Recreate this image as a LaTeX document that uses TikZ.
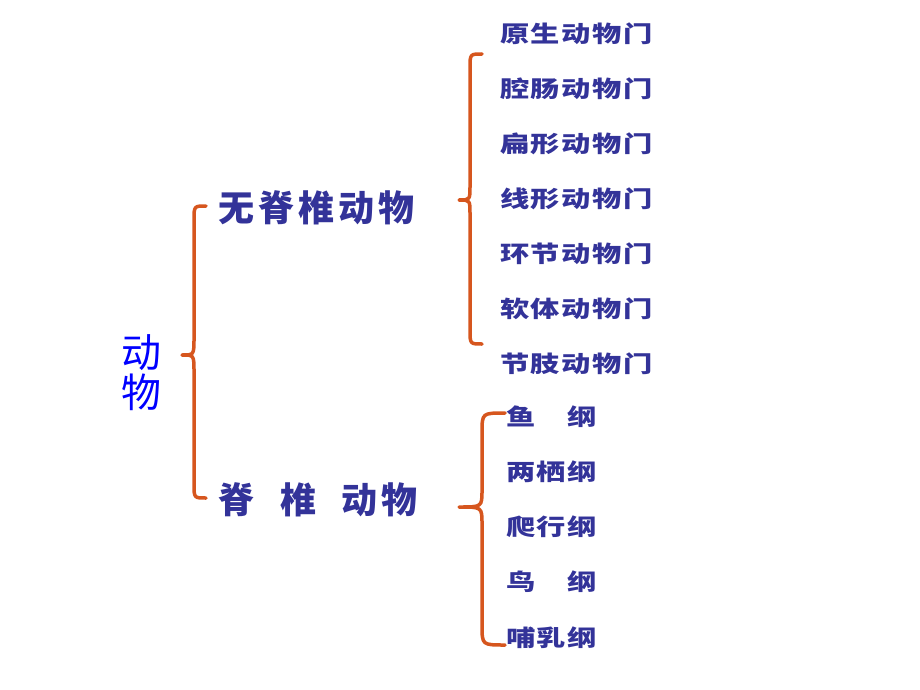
\documentclass[tikz,border=0pt]{standalone}
\usepackage{graphicx}
\usepackage{fontspec}
\newfontfamily\cjk{Noto Sans CJK SC}
\definecolor{txtblue}{RGB}{51,51,153}
\definecolor{rootblue}{RGB}{0,0,255}
\definecolor{braceorange}{RGB}{214,86,30}
\newcommand\kk{\kern1.2pt}
\newcommand\km{\kern4pt}
\newcommand\wide[1]{\scalebox{1.22}[0.95]{#1}}
\tikzset{
  item/.style={anchor=west, inner sep=0pt, text=txtblue, font=\cjk\bfseries\fontsize{24}{24}\selectfont},
  mid/.style={anchor=west, inner sep=0pt, text=txtblue, font=\cjk\bfseries\fontsize{36}{36}\selectfont},
  rootstyle/.style={inner sep=0pt, text=rootblue, align=center, font=\cjk\fontsize{40}{40}\selectfont},
  brace/.style={draw=braceorange, line width=3.5pt, line cap=round, line join=round}
}
\begin{document}
\begin{tikzpicture}[x=1pt,y=-1pt]
\useasboundingbox (0,0) rectangle (920,690);
% root
\node[rootstyle] (root) at (141,373) {动\\物};
% middle
\node[mid] (inv) at (218,208) {无\km 脊\km 椎\km 动\km 物};
\node[mid] (ver) at (218,500) {脊\kern26pt 椎\kern25pt 动\km 物};
% phyla
\node[item] (p1) at (500,34)  {\wide{原\kk 生\kk 动\kk 物\kk 门}};
\node[item] (p2) at (500,89)  {\wide{腔\kk 肠\kk 动\kk 物\kk 门}};
\node[item] (p3) at (500,144) {\wide{扁\kk 形\kk 动\kk 物\kk 门}};
\node[item] (p4) at (500,199) {\wide{线\kk 形\kk 动\kk 物\kk 门}};
\node[item] (p5) at (500,254) {\wide{环\kk 节\kk 动\kk 物\kk 门}};
\node[item] (p6) at (500,309) {\wide{软\kk 体\kk 动\kk 物\kk 门}};
\node[item] (p7) at (500,364) {\wide{节\kk 肢\kk 动\kk 物\kk 门}};
% classes
\node[item] (c1) at (506,417) {\wide{鱼\kk\phantom{两}\kk 纲}};
\node[item] (c2) at (506,472) {\wide{两\kk 栖\kk 纲}};
\node[item] (c3) at (506,527) {\wide{爬\kk 行\kk 纲}};
\node[item] (c4) at (506,582) {\wide{鸟\kk\phantom{两}\kk 纲}};
\node[item] (c5) at (506,638) {\wide{哺\kk 乳\kk 纲}};
% big brace
\draw[brace] (206,206) .. controls (194,206) .. (194,220) -- (194,338)
  .. controls (194,355) .. (182,355) .. controls (194,355) .. (194,372)
  -- (194,484) .. controls (194,498) .. (206,498);
% brace for phyla
\draw[brace] (482,54) .. controls (470,54) .. (470,68) -- (470,186)
  .. controls (470,200) .. (459,200) .. controls (470,200) .. (470,214)
  -- (470,330) .. controls (470,344) .. (482,344);
% brace for classes
\draw[brace] (505,413) .. controls (482,413) .. (482,433) -- (482,490)
  .. controls (482,507) .. (459,507) .. controls (482,507) .. (482,524)
  -- (482,625) .. controls (482,645) .. (505,645);
\end{tikzpicture}
\end{document}
